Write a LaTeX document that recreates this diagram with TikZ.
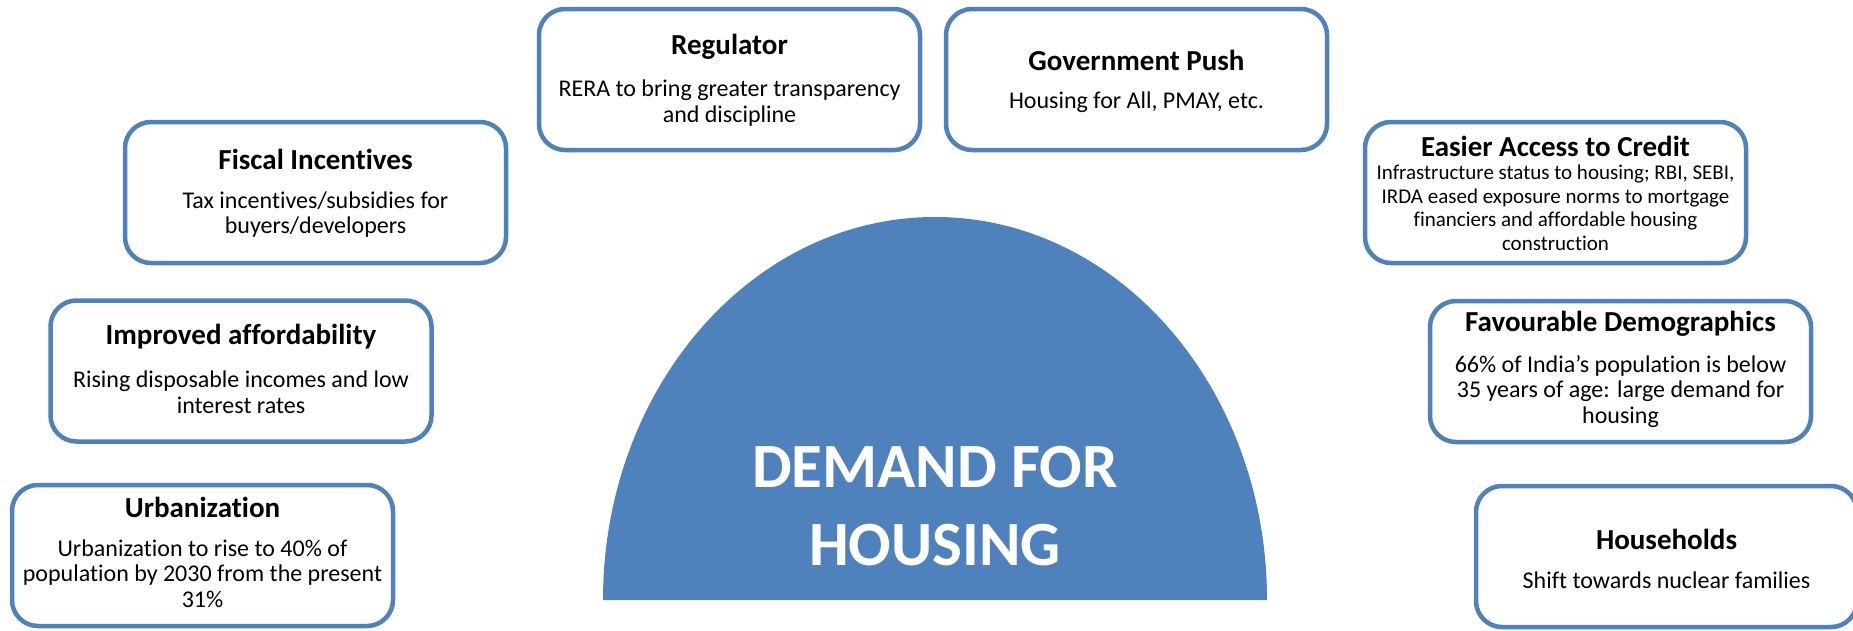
\documentclass[tikz,border=0pt]{standalone}
\usepackage{fontspec}
\setmainfont{Carlito}[Ligatures=NoCommon]
\definecolor{ofblue}{HTML}{4F81BD}
\begin{document}
\begin{tikzpicture}[x=1pt,y=-1pt,
  card/.style={draw=ofblue, line width=4.5pt, rounded corners=26pt, fill=white,
    minimum width=381pt, minimum height=141pt, inner sep=0pt},
  ttl/.style={font=\fontsize{29}{32}\selectfont\bfseries, inner sep=0pt},
  bdy/.style={font=\fontsize{24}{25.5}\selectfont, align=center, inner sep=0pt},
  bdys/.style={font=\fontsize{21}{23.5}\selectfont, align=center, inner sep=0pt},
  ctr/.style={font=\fontsize{63}{78}\selectfont\bfseries, text=white, align=center, inner sep=0pt}]
\useasboundingbox (0,0) rectangle (1853,630);
\fill[white] (0,0) rectangle (1853,630);

% central dome
\fill[ofblue] (603,600) arc[start angle=180, end angle=360, x radius=332, y radius=383] -- cycle;
\node[ctr] (demand) at (935,506) {DEMAND FOR\\HOUSING};

% boxes
\node[card] (reg) at (729.5,79.5) {};
\node[ttl] (regT) at (729.5,47) {Regulator};
\node[bdy] (regB) at (729.5,103) {RERA to bring greater transparency\\and discipline};

\node[card] (gov) at (1136.5,79.5) {};
\node[ttl] (govT) at (1136.5,60) {Government Push};
\node[bdy] (govB) at (1136.5,102) {Housing for All, PMAY, etc.};

\node[card] (fis) at (315.5,192.5) {};
\node[ttl] (fisT) at (315.5,159) {Fiscal Incentives};
\node[bdy] (fisB) at (315.5,214.5) {Tax incentives/subsidies for\\buyers/developers};

\node[card] (eas) at (1555.5,192.5) {};
\node[ttl] (easT) at (1555.5,146) {Easier Access to Credit};
\node[bdys] (easB) at (1555.5,208) {Infrastructure status to housing; RBI, SEBI,\\IRDA eased exposure norms to mortgage\\financiers and affordable housing\\construction};

\node[card] (imp) at (241,371) {};
\node[ttl] (impT) at (241,337) {Improved affordability};
\node[bdy] (impB) at (241,392) {Rising disposable incomes and low\\interest rates};

\node[card] (fav) at (1620.5,371.5) {};
\node[ttl] (favT) at (1620.5,324) {Favourable Demographics};
\node[bdy] (favB) at (1620.5,391.5) {66\% of India’s population is below\\35 years of age: large demand for\\housing};

\node[card] (urb) at (202.5,555.5) {};
\node[ttl] (urbT) at (202.5,507) {Urbanization};
\node[bdy] (urbB) at (202.5,573.5) {Urbanization to rise to 40\% of\\population by 2030 from the present\\31\%};

\node[card] (hh) at (1666.5,556.5) {};
\node[ttl] (hhT) at (1666.5,539) {Households};
\node[bdy] (hhB) at (1666.5,580) {Shift towards nuclear families};
\end{tikzpicture}
\end{document}
